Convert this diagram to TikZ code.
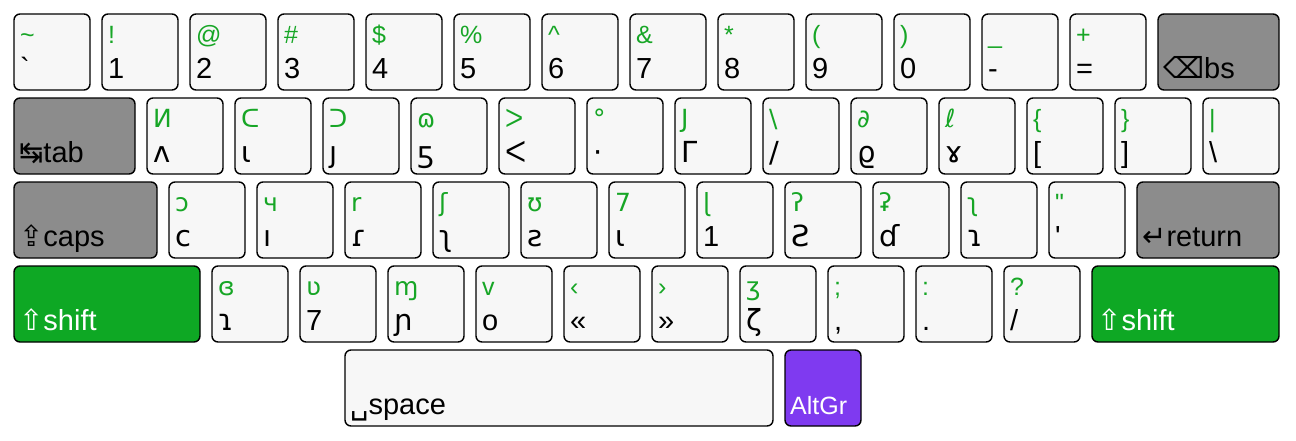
\documentclass[tikz,border=0pt]{standalone}
\usepackage{fontspec}
\setmainfont{Liberation Sans}
\newfontfamily\djv{DejaVu Sans}
\definecolor{keyfill}{HTML}{F7F7F7}
\definecolor{modfill}{HTML}{8C8C8C}
\definecolor{shiftfill}{HTML}{0EA824}
\definecolor{altfill}{HTML}{7F3AF0}
\definecolor{lblgreen}{HTML}{17A626}
\tikzset{
  keybox/.style={draw=black, line width=1.4pt, rounded corners=6pt, fill=keyfill,
    minimum height=76pt, anchor=north west, inner sep=0pt, outer sep=0pt},
  modkey/.style={fill=modfill},
  shiftkey/.style={fill=shiftfill},
  altkey/.style={fill=altfill},
  toplbl/.style={anchor=base west, inner sep=0pt, text=lblgreen, font=\fontsize{25}{27}\selectfont},
  botlbl/.style={anchor=base west, inner sep=0pt, text=black, font=\fontsize{29}{30}\selectfont},
  modlbl/.style={anchor=base west, inner sep=0pt, text=black, font=\fontsize{29}{30}\selectfont},
}
% name, x, y, top, bottom
\newcommand\KeyK[5]{%
  \node[keybox, minimum width=76pt] (#1) at (#2,#3) {};
  \node[toplbl] (#1t) at ([xshift=6pt,yshift=-29pt]#1.north west) {#4};
  \node[botlbl] (#1b) at ([xshift=6pt,yshift=-64pt]#1.north west) {#5};
}
% name, x, y, width, style, label
\newcommand\ModK[6]{%
  \node[keybox, #5, minimum width=#4pt] (#1) at (#2,#3) {};
  \node[modlbl] (#1l) at ([xshift=5pt,yshift=-64pt]#1.north west) {#6};
}
\newcommand\G[1]{{\djv #1}}
\begin{document}
\begin{tikzpicture}[x=1pt,y=-1pt]
\useasboundingbox (0,0) rectangle (1296,440);
% row 1
\KeyK{k00}{14}{14}{\textasciitilde}{\textasciigrave}
\KeyK{k01}{102}{14}{!}{1}
\KeyK{k02}{190}{14}{@}{2}
\KeyK{k03}{278}{14}{\#}{3}
\KeyK{k04}{366}{14}{\$}{4}
\KeyK{k05}{454}{14}{\%}{5}
\KeyK{k06}{542}{14}{\textasciicircum}{6}
\KeyK{k07}{630}{14}{\&}{7}
\KeyK{k08}{718}{14}{*}{8}
\KeyK{k09}{806}{14}{(}{9}
\KeyK{k10}{894}{14}{)}{0}
\KeyK{k11}{982}{14}{\_}{-}
\KeyK{k12}{1070}{14}{+}{=}
\ModK{bs}{1158}{14}{121}{modkey}{\G{⌫}bs}
% row 2
\ModK{tab}{14}{98}{121}{modkey}{\G{↹}tab}
\KeyK{q}{147}{98}{\G{И}}{\G{ʌ}}
\KeyK{w}{235}{98}{\G{ᑕ}}{\G{ι}}
\KeyK{e}{323}{98}{\G{ᑐ}}{\G{ȷ}}
\KeyK{r}{411}{98}{\G{ɷ}}{\G{ƽ}}
\KeyK{t}{499}{98}{\G{ᐳ}}{\G{ᐸ}}
\KeyK{y}{587}{98}{\G{°}}{\G{·}}
\KeyK{u}{675}{98}{\G{J}}{\G{Γ}}
\KeyK{i}{763}{98}{\G{\textbackslash}}{\G{/}}
\KeyK{o}{851}{98}{\G{∂}}{\G{ϱ}}
\KeyK{p}{939}{98}{\G{ℓ}}{\G{ɤ}}
\KeyK{lb}{1027}{98}{\{}{[}
\KeyK{rb}{1115}{98}{\}}{]}
\KeyK{bsl}{1203}{98}{\textbar}{\textbackslash}
% row 3
\ModK{caps}{14}{182}{143}{modkey}{\G{⇪}caps}
\KeyK{a}{169}{182}{\G{ɔ}}{\G{ᴄ}}
\KeyK{s}{257}{182}{\G{ч}}{\G{ı}}
\KeyK{d}{345}{182}{\G{r}}{\G{ɾ}}
\KeyK{f}{433}{182}{\G{ʃ}}{\G{ʅ}}
\KeyK{g}{521}{182}{\G{ʊ}}{\G{ƨ}}
\KeyK{h}{609}{182}{\G{7}}{\G{ɩ}}
\KeyK{j}{697}{182}{\G{ɭ}}{1}
\KeyK{k}{785}{182}{\G{ʔ}}{\G{Ƨ}}
\KeyK{l}{873}{182}{\G{ʡ}}{\G{ɗ}}
\KeyK{sc}{961}{182}{\G{ʅ}}{\G{ɿ}}
\KeyK{qt}{1049}{182}{\textquotedbl}{\textquotesingle}
\ModK{ret}{1137}{182}{142}{modkey}{\G{↵}return}
% row 4
\ModK{lsh}{14}{266}{186}{shiftkey}{\color{white}\G{⇧}shift}
\KeyK{z}{212}{266}{\G{ɞ}}{\G{ɿ}}
\KeyK{x}{300}{266}{\G{ʋ}}{7}
\KeyK{c}{388}{266}{\G{ɱ}}{\G{ɲ}}
\KeyK{v}{476}{266}{v}{o}
\KeyK{b}{564}{266}{‹}{«}
\KeyK{n}{652}{266}{›}{»}
\KeyK{m}{740}{266}{\G{ʒ}}{\G{ζ}}
\KeyK{cm}{828}{266}{;}{,}
\KeyK{pd}{916}{266}{:}{.}
\KeyK{sl}{1004}{266}{?}{/}
\ModK{rsh}{1092}{266}{187}{shiftkey}{\color{white}\G{⇧}shift}
% row 5
\ModK{spc}{345}{350}{428}{}{\G{␣}space}
\node[keybox, altkey, minimum width=76pt] (alt) at (785,350) {};
\node[anchor=base west, inner sep=0pt, text=white, font=\fontsize{25}{27}\selectfont] (altl) at ([xshift=5pt,yshift=-64pt]alt.north west) {AltGr};
\end{tikzpicture}
\end{document}
